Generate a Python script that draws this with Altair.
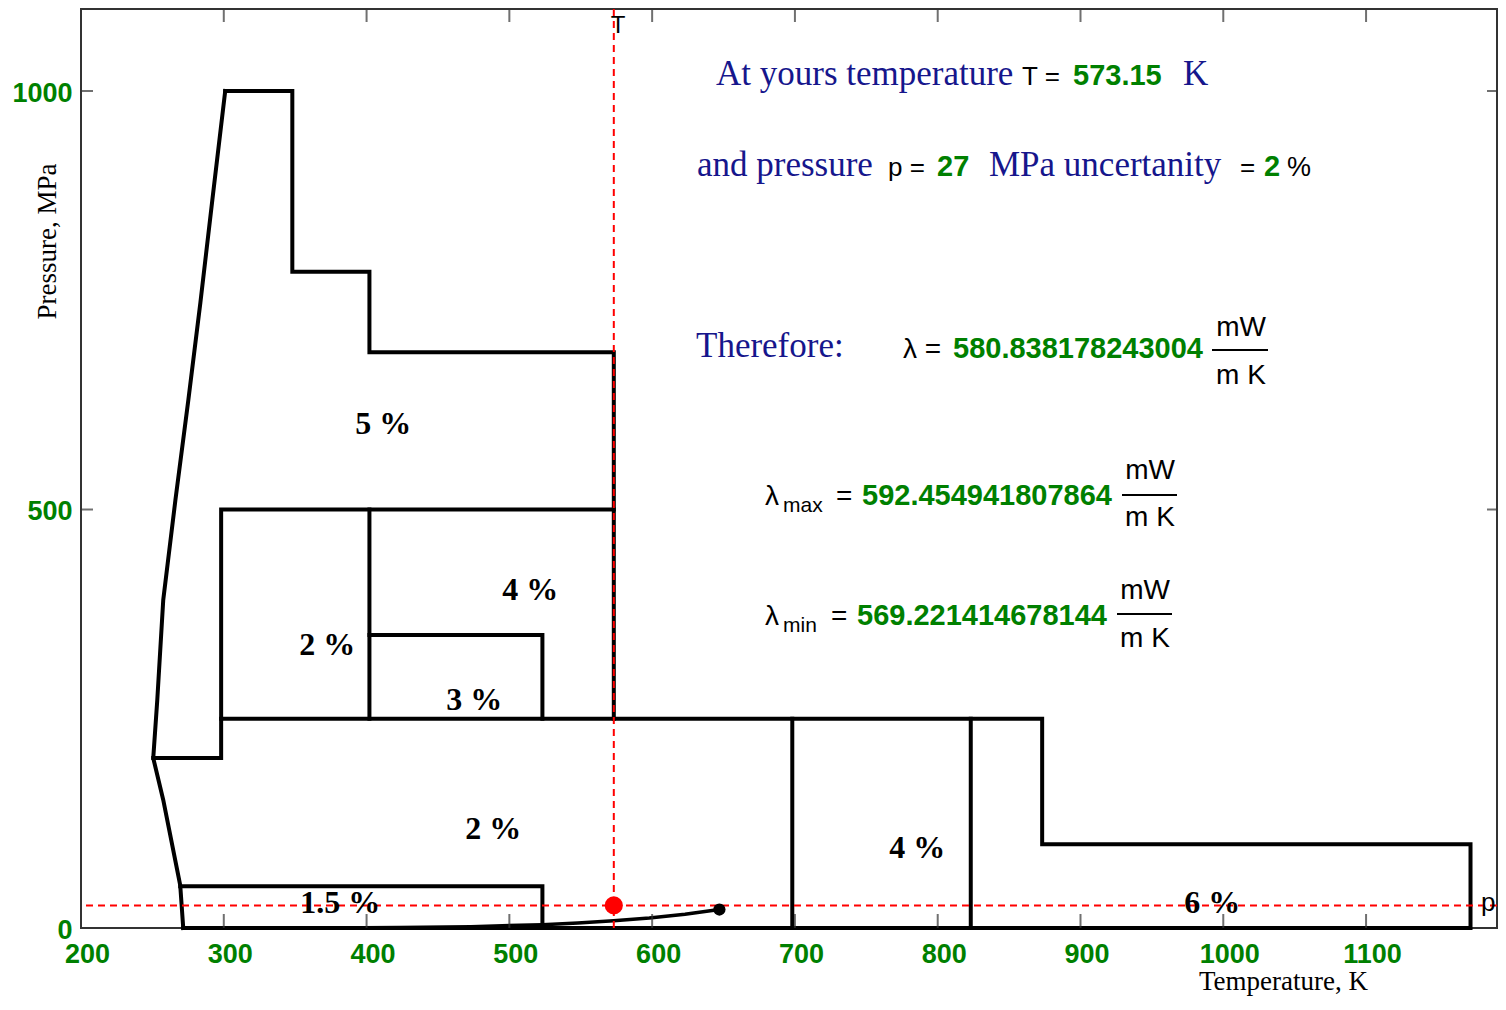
import altair as alt
import pandas as pd

# ---------------- data ----------------
x_tick_values = [200, 300, 400, 500, 600, 700, 800, 900, 1000, 1100]
y_tick_values = [0, 500, 1000]
x_inner_ticks = [300, 400, 500, 600, 700, 800, 900, 1000, 1100]
y_inner_ticks = [500, 1000]

# melting line (K, MPa)
melt_T = [301, 292, 283.6, 275.2, 266.1, 257.6, 253.4, 250.6, 257.6, 269.5, 271.6]
melt_p = [1000, 870, 747, 631, 511, 392, 272, 203, 153, 51, 0]

# region boundaries (K, MPa)
top_T = [301, 348, 348, 402, 402, 573.15, 573.15]
top_p = [1000, 1000, 784, 784, 688, 688, 250]
outer_T = [271.6, 1173.15, 1173.15, 873.15, 873.15, 298.15, 298.15, 250.6]
outer_p = [0, 0, 100, 100, 250, 250, 203, 203]
mid_T = [298.15, 298.15, 573.15]
mid_p = [250, 500, 500]
sep4_T = [402, 402]
sep4_p = [500, 250]
box3_T = [402, 523.15, 523.15]
box3_p = [350, 350, 250]
v1_T = [698.15, 698.15]
v1_p = [250, 0]
v2_T = [823.15, 823.15]
v2_p = [250, 0]
box15_T = [269.5, 523.15, 523.15]
box15_p = [50, 50, 0]

# saturation line up to the critical point
sat_T = [271.6, 373, 423, 473, 523, 548, 573, 598, 623, 647.1]
sat_p = [0, 0.1, 0.5, 1.6, 4.0, 5.9, 8.6, 12.0, 16.5, 22.1]
crit_T = [647.1]
crit_p = [22.1]

# region labels
region_text = ["5 %", "4 %", "2 %", "3 %", "2 %", "4 %", "1.5 %", "6 %"]
region_T = [411.7, 514.7, 372.5, 475.5, 488.8, 785.7, 381.6, 992.3]
region_p = [602, 404, 338, 272, 118, 96, 30, 30]

# user state point and results
T_user = 573.15
p_user = 27
uncertainty = 2
lam = "580.838178243004"
lam_max = "592.454941807864"
lam_min = "569.221414678144"

# ---------------- layout ----------------
W, H = 1416, 919
xs = alt.Scale(domain=[200, 1191.7], nice=False, zero=False)
ys = alt.Scale(domain=[0, 1098], nice=False, zero=False)

NAVY = "#16168c"
GREEN = "#008000"
SERIF = "Liberation Serif"
SANS = "Liberation Sans"

x_axis = alt.Axis(
    values=x_tick_values, format="d", ticks=False, domain=False, grid=False,
    labelFont=SANS, labelFontWeight="bold", labelFontSize=27, labelColor=GREEN,
    labelPadding=13, labelOffset=6, labelFlush=False, labelOverlap=False,
    title="Temperature, K", titleFont=SERIF, titleFontSize=27, titleFontWeight="normal",
    titleColor="black", titleX=1202, titleY=53, titleBaseline="middle",
)
y_axis = alt.Axis(
    values=y_tick_values, format="d", ticks=False, domain=False, grid=False,
    labelFont=SANS, labelFontWeight="bold", labelFontSize=27, labelColor=GREEN,
    labelPadding=9, labelOffset=2, labelFlush=False, labelOverlap=False,
    title="Pressure, MPa", titleFont=SERIF, titleFontSize=27, titleFontWeight="normal",
    titleColor="black", titleAngle=270, titleX=-34, titleY=232, titleBaseline="middle",
)


def X(field="T"):
    return alt.X(f"{field}:Q", scale=xs, axis=x_axis)


def Y(field="p"):
    return alt.Y(f"{field}:Q", scale=ys, axis=y_axis)


# boundary table
segments = [
    ("melt", melt_T, melt_p), ("top", top_T, top_p), ("outer", outer_T, outer_p),
    ("mid", mid_T, mid_p), ("sep4", sep4_T, sep4_p), ("box3", box3_T, box3_p),
    ("v1", v1_T, v1_p), ("v2", v2_T, v2_p), ("box15", box15_T, box15_p),
]
rows = []
for name, Ts, ps in segments:
    for i, (t, p) in enumerate(zip(Ts, ps)):
        rows.append({"seg": name, "i": i, "T": t, "p": p})
bnd_df = pd.DataFrame(rows)

boundaries = alt.Chart(bnd_df).mark_line(
    color="black", strokeWidth=4, strokeJoin="miter", strokeCap="square"
).encode(x=X(), y=Y(), detail="seg:N", order="i:Q")

sat = alt.Chart(pd.DataFrame({"T": sat_T, "p": sat_p})).mark_line(
    color="black", strokeWidth=3.5
).encode(x=X(), y=Y())

crit = alt.Chart(pd.DataFrame({"T": crit_T, "p": crit_p})).mark_point(
    filled=True, color="black", size=150, opacity=1
).encode(x=X(), y=Y())

vline = alt.Chart(pd.DataFrame({"T": [T_user]})).mark_rule(
    color="red", strokeWidth=2, strokeDash=[7, 5]
).encode(x=X())

hline = alt.Chart(pd.DataFrame({"p": [p_user]})).mark_rule(
    color="red", strokeWidth=2, strokeDash=[7, 5]
).encode(y=Y())

user_pt = alt.Chart(pd.DataFrame({"T": [T_user], "p": [p_user]})).mark_point(
    filled=True, color="red", size=330, opacity=1
).encode(x=X(), y=Y())

regions = alt.Chart(pd.DataFrame({"T": region_T, "p": region_p, "txt": region_text})).mark_text(
    font=SERIF, fontWeight="bold", fontSize=32, color="black", baseline="middle", align="center"
).encode(x=X(), y=Y(), text="txt:N")

# inner tick marks on all four sides
tick_bottom = alt.Chart(pd.DataFrame({"T": x_inner_ticks})).mark_tick(
    orient="vertical", size=14, thickness=2, color="#333"
).encode(x=X(), y=alt.value(H - 7))
tick_top = alt.Chart(pd.DataFrame({"T": x_inner_ticks})).mark_tick(
    orient="vertical", size=13, thickness=2, color="#333"
).encode(x=X(), y=alt.value(6.5))
tick_left = alt.Chart(pd.DataFrame({"p": y_inner_ticks})).mark_tick(
    orient="horizontal", size=12, thickness=2, color="#333"
).encode(y=Y(), x=alt.value(6))
tick_right = alt.Chart(pd.DataFrame({"p": y_inner_ticks})).mark_tick(
    orient="horizontal", size=10, thickness=2, color="#333"
).encode(y=Y(), x=alt.value(W - 5))

# T / p labels of the red guide lines
t_lab = alt.Chart(pd.DataFrame({"T": [T_user], "s": ["T"]})).mark_text(
    font=SANS, fontSize=24, color="black", align="left", baseline="middle", dx=-3
).encode(x=X(), y=alt.value(17), text="s:N")
p_lab = alt.Chart(pd.DataFrame({"p": [p_user], "s": ["p"]})).mark_text(
    font=SANS, fontSize=26, color="black", align="left", baseline="middle", dy=-2
).encode(y=Y(), x=alt.value(W - 16), text="s:N")

# ---------------- annotation text block ----------------
one = pd.DataFrame({"k": [0]})


def label(text, x, y, color, font, size, weight="normal", align="left"):
    return alt.Chart(one).mark_text(
        text=text, align=align, baseline="alphabetic", font=font,
        fontSize=size, fontWeight=weight, color=color,
    ).encode(x=alt.value(x), y=alt.value(y))


def frac_rule(x1, x2, y):
    return alt.Chart(one).mark_rule(color="black", strokeWidth=2).encode(
        x=alt.value(x1), x2=alt.value(x2), y=alt.value(y)
    )


texts = [
    label("At yours temperature", 635, 76, NAVY, SERIF, 35),
    label("T =", 941, 76, "black", SANS, 26),
    label(f"{T_user}", 992, 76, GREEN, SANS, 29, "bold"),
    label("K", 1102, 76, NAVY, SERIF, 35),
    label("and pressure", 616, 167, NAVY, SERIF, 35),
    label("p =", 807, 167, "black", SANS, 26),
    label(f"{p_user}", 856, 167, GREEN, SANS, 29, "bold"),
    label("MPa uncertanity", 908, 167, NAVY, SERIF, 35),
    label("=", 1159, 167, "black", SANS, 26),
    label(f"{uncertainty}", 1183, 167, GREEN, SANS, 29, "bold"),
    label("%", 1206, 167, "black", SANS, 27),
    label("Therefore:", 615, 348, NAVY, SERIF, 35),
    label("\u03bb =", 822, 349, "black", SANS, 28),
    label(lam, 872, 349, GREEN, SANS, 29, "bold"),
    label("mW", 1160, 327, "black", SANS, 28, align="center"),
    frac_rule(1131, 1187, 341),
    label("m K", 1160, 375, "black", SANS, 28, align="center"),
    label("\u03bb", 684, 496, "black", SANS, 28),
    label("max", 702, 503, "black", SANS, 21),
    label("=", 755, 496, "black", SANS, 28),
    label(lam_max, 781, 496, GREEN, SANS, 29, "bold"),
    label("mW", 1069, 470, "black", SANS, 28, align="center"),
    frac_rule(1041, 1096, 486),
    label("m K", 1069, 517, "black", SANS, 28, align="center"),
    label("\u03bb", 684, 616, "black", SANS, 28),
    label("min", 702, 623, "black", SANS, 21),
    label("=", 750, 616, "black", SANS, 28),
    label(lam_min, 776, 616, GREEN, SANS, 29, "bold"),
    label("mW", 1064, 590, "black", SANS, 28, align="center"),
    frac_rule(1036, 1091, 605),
    label("m K", 1064, 638, "black", SANS, 28, align="center"),
]

chart = alt.layer(
    boundaries, sat, vline, hline, crit, user_pt, regions,
    tick_bottom, tick_top, tick_left, tick_right, t_lab, p_lab, *texts,
).properties(
    width=W, height=H,
    padding={"left": 73, "top": 1, "right": 1, "bottom": 70},
    autosize=alt.AutoSizeParams(type="none"),
    background="white",
).configure_view(stroke="#333", strokeWidth=2)

chart.save("out.html", embed_options={"renderer": "svg", "actions": False})
